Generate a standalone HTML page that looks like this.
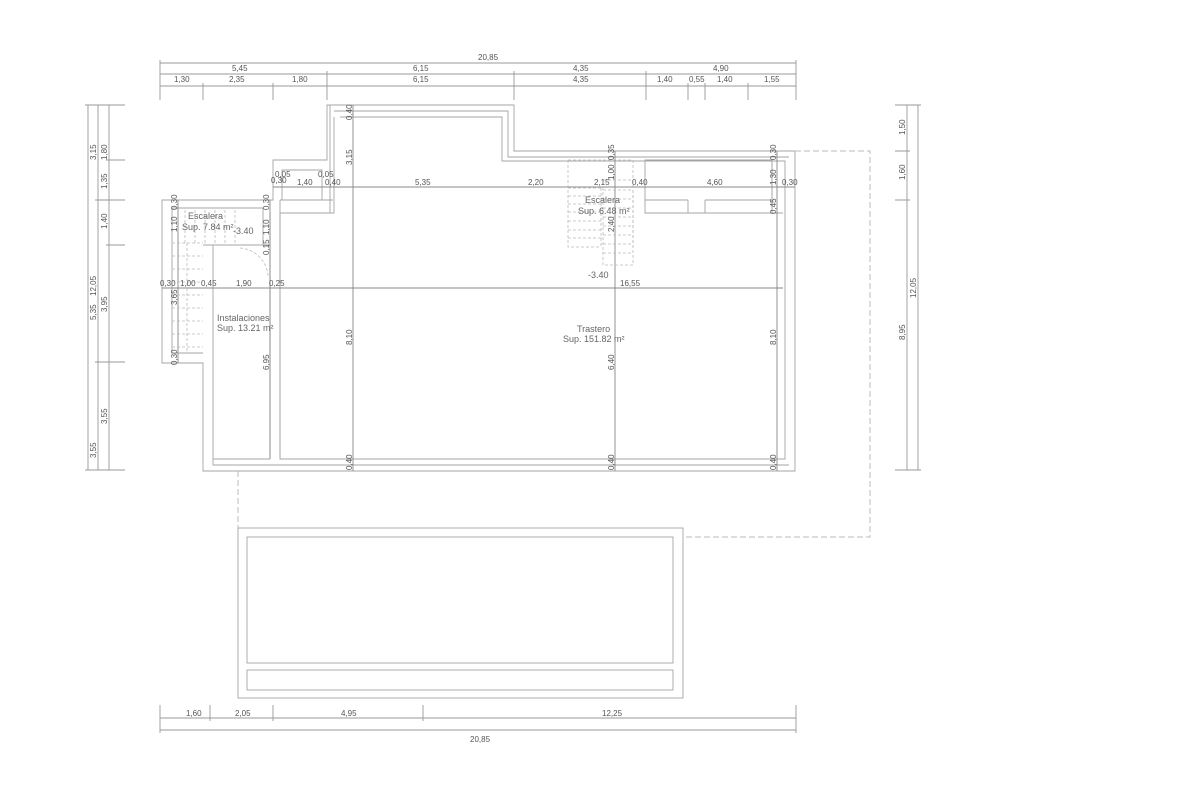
<!DOCTYPE html>
<html><head><meta charset="utf-8"><style>
html,body{margin:0;padding:0;background:#fff}
svg{display:block}
text{font-family:"Liberation Sans",sans-serif;font-size:8px;fill:#555}
.t{font-size:9px;fill:#666}
</style></head><body>
<svg width="1178" height="800" viewBox="0 0 1178 800" xmlns="http://www.w3.org/2000/svg">
<g stroke="#999" stroke-width="0.9" fill="none">
<line x1="160" y1="63" x2="796" y2="63"/>
<line x1="160" y1="74" x2="796" y2="74"/>
<line x1="160" y1="86" x2="796" y2="86"/>
<path d="M160,60V100 M796,60V100 M327,71V100 M514,71V100 M646,71V100 M203,83V100 M273,83V100 M688,83V100 M705,83V100 M748,83V100"/>
<path d="M88,105V470 M98,105V470 M109,105V470 M85,105H125 M95,200H125 M106,160H125 M106,245H125 M95,362H125 M85,470H125"/>
<path d="M907,105V470 M918,105V470 M895,105H921 M895,151H910 M895,200H910 M895,470H921"/>
<path d="M160,718H796 M160,730H796 M160,705V733 M210,705V721 M273,705V721 M423,705V721 M796,705V733"/>
</g>
<g stroke="#a5a5a5" stroke-width="0.9" fill="none">
<path d="M327,105H514V151H795V471H203V363H162V200H273V160H327Z"/>
<path d="M334,111H508V157H789"/>
<path d="M340,117H502V161H785V459H280V213H334V117"/>
<path d="M330,105V213 M280,200V459 M270,213V459"/>
<path d="M213,459H270 M213,245V465H789 M203,245H270 M172,208V353H203 M172,208H263V245"/>
<path d="M282,170H322V200H282Z M280,200H333"/>
<path d="M645,160H772V213H645Z M645,200H688 M705,200H772 M688,200V213 M705,200V213"/>
<path d="M772,160V213H783"/>
<path stroke="#888" d="M273,187H795 M162,288H783 M353,105V471 M615,151V471 M777,151V471 M270,200V459 M178,200V363"/>
</g>
<g stroke="#bbb" stroke-width="0.8" fill="none" stroke-dasharray="3,2">
<path d="M172,243H203 M172,256H203 M172,269H203 M172,282H203 M172,295H203 M172,308H203 M172,321H203 M172,334H203 M172,347H203 M187,243V353"/>
<path d="M185,210V243 M195,210V243 M205,210V243 M215,210V243 M225,210V243 M235,210V243"/>
<path d="M568,160H633V247 M568,160V247H601 M568,188H601 M568,196H601 M568,204H601 M568,212H601 M568,221H601 M568,230H601 M568,238H601 M601,188V247"/>
<path d="M603,180H633V265H603Z M603,190H633 M603,199H633 M603,208H633 M603,217H633 M603,226H633 M603,235H633 M603,244H633 M603,253H633"/>
<path stroke-dasharray="" d="M240,248A30,30 0 0 1 268,276"/>
</g>
<g stroke="#bbb" stroke-width="1" fill="none" stroke-dasharray="6,3">
<path d="M795,151H870V537H683 M238,471V528"/>
</g>
<g stroke="#a5a5a5" stroke-width="0.9" fill="none">
<rect x="238" y="528" width="445" height="170"/>
<rect x="247" y="537" width="426" height="126"/>
<rect x="247" y="670" width="426" height="20"/>
</g>
<g>
<text x="478" y="60">20,85</text>
<text x="232" y="71">5,45</text>
<text x="413" y="71">6,15</text>
<text x="573" y="71">4,35</text>
<text x="713" y="71">4,90</text>
<text x="174" y="82">1,30</text>
<text x="229" y="82">2,35</text>
<text x="292" y="82">1,80</text>
<text x="413" y="82">6,15</text>
<text x="573" y="82">4,35</text>
<text x="657" y="82">1,40</text>
<text x="689" y="82">0,55</text>
<text x="717" y="82">1,40</text>
<text x="764" y="82">1,55</text>
<text x="186" y="716">1,60</text>
<text x="235" y="716">2,05</text>
<text x="341" y="716">4,95</text>
<text x="602" y="716">12,25</text>
<text x="470" y="742">20,85</text>
</g>
<g>
<text transform="translate(96,160) rotate(-90)">3,15</text>
<text transform="translate(107,160) rotate(-90)">1,80</text>
<text transform="translate(107,189) rotate(-90)">1,35</text>
<text transform="translate(107,229) rotate(-90)">1,40</text>
<text transform="translate(96,296) rotate(-90)">12,05</text>
<text transform="translate(96,320) rotate(-90)">5,35</text>
<text transform="translate(107,312) rotate(-90)">3,95</text>
<text transform="translate(107,424) rotate(-90)">3,55</text>
<text transform="translate(96,458) rotate(-90)">3,55</text>
<text transform="translate(905,135) rotate(-90)">1,50</text>
<text transform="translate(905,180) rotate(-90)">1,60</text>
<text transform="translate(905,340) rotate(-90)">8,95</text>
<text transform="translate(916,298) rotate(-90)">12,05</text>
<text transform="translate(352,120) rotate(-90)">0,40</text>
<text transform="translate(352,165) rotate(-90)">3,15</text>
<text transform="translate(352,345) rotate(-90)">8,10</text>
<text transform="translate(352,470) rotate(-90)">0,40</text>
<text transform="translate(614,160) rotate(-90)">0,35</text>
<text transform="translate(614,180) rotate(-90)">1,00</text>
<text transform="translate(614,232) rotate(-90)">2,40</text>
<text transform="translate(614,370) rotate(-90)">6,40</text>
<text transform="translate(614,470) rotate(-90)">0,40</text>
<text transform="translate(776,160) rotate(-90)">0,30</text>
<text transform="translate(776,185) rotate(-90)">1,30</text>
<text transform="translate(776,214) rotate(-90)">0,45</text>
<text transform="translate(776,345) rotate(-90)">8,10</text>
<text transform="translate(776,470) rotate(-90)">0,40</text>
<text transform="translate(269,210) rotate(-90)">0,30</text>
<text transform="translate(269,235) rotate(-90)">1,10</text>
<text transform="translate(269,255) rotate(-90)">0,15</text>
<text transform="translate(269,370) rotate(-90)">6,95</text>
<text transform="translate(177,210) rotate(-90)">0,30</text>
<text transform="translate(177,232) rotate(-90)">1,10</text>
<text transform="translate(177,305) rotate(-90)">3,65</text>
<text transform="translate(177,365) rotate(-90)">0,30</text>
<text x="271" y="183">0,30</text><text x="275" y="177">0,05</text>
<text x="297" y="185">1,40</text><text x="318" y="177">0,05</text><text x="325" y="185">0,40</text>
<text x="415" y="185">5,35</text><text x="528" y="185">2,20</text>
<text x="594" y="185">2,15</text><text x="632" y="185">0,40</text>
<text x="707" y="185">4,60</text><text x="782" y="185">0,30</text>
<text x="160" y="286">0,30</text><text x="180" y="286">1,00</text><text x="201" y="286">0,45</text>
<text x="236" y="286">1,90</text><text x="269" y="286">0,25</text><text x="620" y="286">16,55</text>
<text class="t" x="188" y="219">Escalera</text>
<text class="t" x="182" y="230">Sup. 7.84 m²</text>
<text class="t" x="233" y="234">-3.40</text>
<text class="t" x="217" y="321">Instalaciones</text>
<text class="t" x="217" y="331">Sup. 13.21 m²</text>
<text class="t" x="585" y="203">Escalera</text>
<text class="t" x="578" y="214">Sup. 6.48 m²</text>
<text class="t" x="588" y="278">-3.40</text>
<text class="t" x="577" y="332">Trastero</text>
<text class="t" x="563" y="342">Sup. 151.82 m²</text>
</g>
</svg>
</body></html>
